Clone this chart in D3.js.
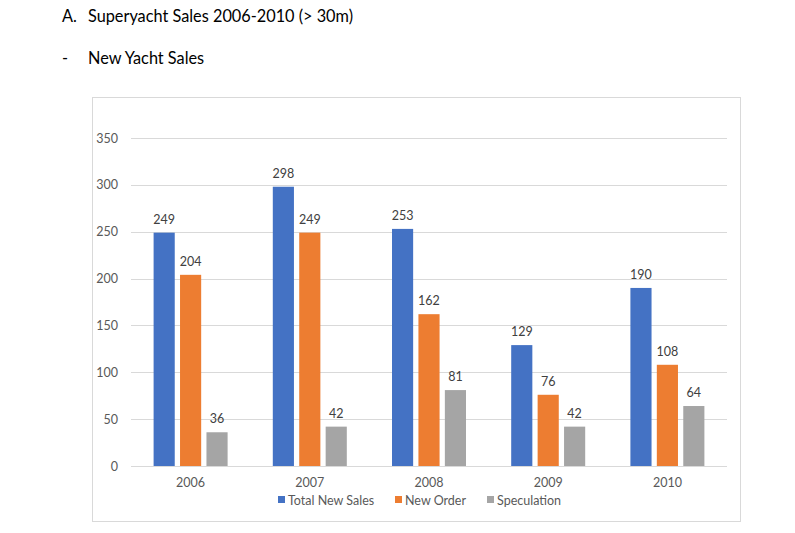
<!DOCTYPE html>
<html><head><meta charset="utf-8">
<script src="https://cdn.jsdelivr.net/npm/d3@7"></script>
<style>body{margin:0;background:#fff;} svg{display:block;}</style>
</head><body>
<svg id="c" width="795" height="533"></svg>
<script>
const years = ["2006","2007","2008","2009","2010"];
const seriesNames = ["Total New Sales","New Order","Speculation"];
const totalNewSales = [249,298,253,129,190];
const newOrder = [204,249,162,76,108];
const speculation = [36,42,81,42,64];
const yTicks = [0,50,100,150,200,250,300,350];
const colors = ["#4472C4","#ED7D31","#A5A5A5"];
const values = [totalNewSales,newOrder,speculation];

const svg = d3.select("#c");
const font = "Lato, 'Open Sans', sans-serif";

svg.append("text").attr("x",62).attr("y",22).attr("font-family",font).attr("font-size",16.3).attr("fill","#000").text("A.");
svg.append("text").attr("x",88).attr("y",22).attr("font-family",font).attr("font-size",16.3).attr("fill","#000").text("Superyacht Sales 2006-2010 (> 30m)");
svg.append("text").attr("x",62).attr("y",64).attr("font-family",font).attr("font-size",16.3).attr("fill","#000").text("-");
svg.append("text").attr("x",88).attr("y",64).attr("font-family",font).attr("font-size",16.3).attr("fill","#000").text("New Yacht Sales");

svg.append("rect").attr("x",92.5).attr("y",97.5).attr("width",648).attr("height",424).attr("fill","#fff").attr("stroke","#d9d9d9");

const x0 = d3.scaleBand().domain(years).range([131,727]);
const x1 = d3.scaleBand().domain(seriesNames).range([x0.bandwidth()/2-37, x0.bandwidth()/2+37]).paddingInner(0.2);
const y = d3.scaleLinear().domain([0,350]).range([466,138]);

const g = svg.append("g");
g.selectAll("line.grid").data(yTicks).join("line")
  .attr("x1",131).attr("x2",727).attr("y1",d=>Math.round(y(d))+0.5).attr("y2",d=>Math.round(y(d))+0.5)
  .attr("stroke","#d9d9d9").attr("stroke-width",1);

const yAxis = d3.axisLeft(y).tickValues(yTicks).tickSize(0).tickPadding(13);
const ya = svg.append("g").attr("transform","translate(131,0)").call(yAxis);
ya.select(".domain").remove();
ya.selectAll("text").attr("font-family",font).attr("font-size",12.5).attr("fill","#595959");

const xAxis = d3.axisBottom(x0).tickSize(0).tickPadding(12);
const xa = svg.append("g").attr("transform","translate(0,466)").call(xAxis);
xa.select(".domain").remove();
xa.selectAll("text").attr("font-family",font).attr("font-size",12.5).attr("fill","#595959");

const groups = svg.append("g").selectAll("g").data(years).join("g")
  .attr("transform",d=>`translate(${x0(d)},0)`);
groups.each(function(yr,i){
  const gg = d3.select(this);
  seriesNames.forEach((s,j)=>{
    const v = values[j][i];
    gg.append("rect").attr("x",x1(s)).attr("y",y(v)).attr("width",x1.bandwidth()).attr("height",y(0)-y(v)).attr("fill",colors[j]);
    gg.append("text").attr("x",x1(s)+x1.bandwidth()/2).attr("y",y(v)-9).attr("text-anchor","middle")
      .attr("font-family",font).attr("font-size",12.5).attr("fill","#404040").text(v);
  });
});

const legendX = [278,395,487];
const lg = svg.append("g");
seriesNames.forEach((s,j)=>{
  lg.append("rect").attr("x",legendX[j]).attr("y",496).attr("width",7).attr("height",7).attr("fill",colors[j]);
  lg.append("text").attr("x",legendX[j]+10).attr("y",504.5).attr("font-family",font).attr("font-size",12.5).attr("fill","#595959").text(s);
});
</script>
</body></html>
